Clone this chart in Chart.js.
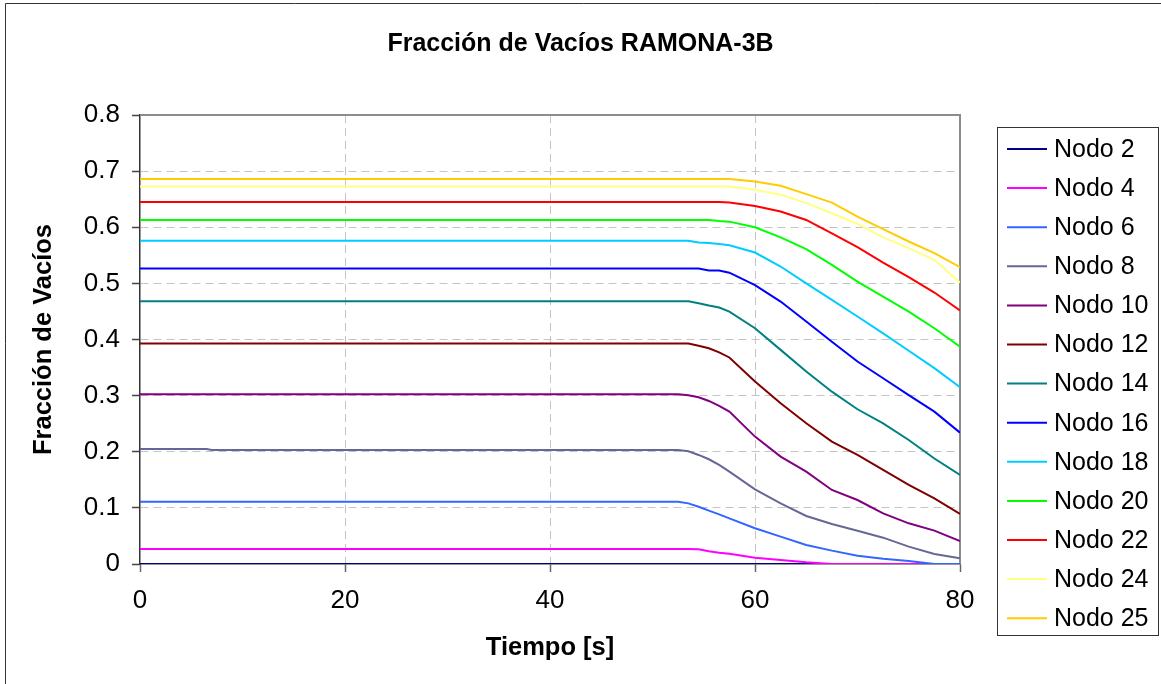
<!DOCTYPE html>
<html>
<head>
<meta charset="utf-8">
<title>Fracción de Vacíos RAMONA-3B</title>
<script src="https://cdn.jsdelivr.net/npm/chart.js@4/dist/chart.umd.min.js"></script>
<style>
    html, body { margin: 0; padding: 0; background: #fff; }
    canvas { display: block; }
</style>
</head>
<body>
<canvas id="grafico" width="1161" height="684"></canvas>
<script>
// --- Datos ---
const tiempo = [0, 6.5, 7, 52.5, 53.5, 54.5, 55.5, 56.5, 57.5, 60, 62.5, 65, 67.5, 70, 72.5, 75, 77.5, 80];

const nodo2  = [0, 0, 0, 0, 0, 0, 0, 0, 0, 0, 0, 0, 0, 0, 0, 0, 0, 0];
const nodo4  = [0.0267, 0.0267, 0.0267, 0.0267, 0.0267, 0.0261, 0.0226, 0.0202, 0.0184, 0.0113, 0.0071, 0.003, 0, 0, 0, 0, 0, 0];
const nodo6  = [0.111, 0.111, 0.111, 0.111, 0.108, 0.102, 0.095, 0.0885, 0.0814, 0.0636, 0.0487, 0.0339, 0.0238, 0.0149, 0.0095, 0.0053, 0, 0];
const nodo8  = [0.205, 0.205, 0.203, 0.203, 0.2008, 0.1943, 0.1866, 0.1765, 0.1646, 0.133, 0.108, 0.0856, 0.0713, 0.0594, 0.0469, 0.0309, 0.0178, 0.0101];
const nodo10 = [0.3025, 0.3025, 0.3025, 0.3025, 0.3007, 0.297, 0.2905, 0.2816, 0.2715, 0.227, 0.1913, 0.1646, 0.1319, 0.114, 0.0903, 0.0725, 0.0594, 0.041];
const nodo12 = [0.393, 0.393, 0.393, 0.393, 0.393, 0.389, 0.3844, 0.377, 0.368, 0.325, 0.2864, 0.2507, 0.218, 0.1943, 0.1676, 0.1408, 0.117, 0.0891];
const nodo14 = [0.468, 0.468, 0.468, 0.468, 0.468, 0.4647, 0.4605, 0.457, 0.4498, 0.42, 0.3815, 0.343, 0.307, 0.2757, 0.2507, 0.221, 0.188, 0.1586];
const nodo16 = [0.5264, 0.5264, 0.5264, 0.5264, 0.5264, 0.5264, 0.523, 0.523, 0.519, 0.497, 0.4676, 0.432, 0.396, 0.3607, 0.331, 0.301, 0.2715, 0.234];
const nodo18 = [0.576, 0.576, 0.576, 0.576, 0.576, 0.573, 0.572, 0.570, 0.568, 0.555, 0.530, 0.500, 0.4706, 0.441, 0.411, 0.380, 0.349, 0.315];
const nodo20 = [0.613, 0.613, 0.613, 0.613, 0.613, 0.613, 0.613, 0.611, 0.610, 0.600, 0.582, 0.561, 0.533, 0.503, 0.4765, 0.4498, 0.420, 0.387];
const nodo22 = [0.645, 0.645, 0.645, 0.645, 0.645, 0.645, 0.645, 0.645, 0.644, 0.638, 0.628, 0.613, 0.589, 0.5645, 0.537, 0.511, 0.4837, 0.4516];
const nodo24 = [0.6726, 0.6726, 0.6726, 0.6726, 0.6726, 0.6726, 0.6726, 0.6726, 0.6726, 0.6667, 0.6578, 0.643, 0.625, 0.606, 0.582, 0.5627, 0.542, 0.5015];
const nodo25 = [0.686, 0.686, 0.686, 0.686, 0.686, 0.686, 0.686, 0.686, 0.686, 0.6815, 0.674, 0.659, 0.644, 0.619, 0.5966, 0.5746, 0.554, 0.529];

const nombres = ['Nodo 2', 'Nodo 4', 'Nodo 6', 'Nodo 8', 'Nodo 10', 'Nodo 12', 'Nodo 14',
                 'Nodo 16', 'Nodo 18', 'Nodo 20', 'Nodo 22', 'Nodo 24', 'Nodo 25'];
const series = [nodo2, nodo4, nodo6, nodo8, nodo10, nodo12, nodo14, nodo16, nodo18, nodo20, nodo22, nodo24, nodo25];

const valoresX = [0, 20, 40, 60, 80];
const etiquetasX = ['0', '20', '40', '60', '80'];
const valoresY = [0, 0.1, 0.2, 0.3, 0.4, 0.5, 0.6, 0.7, 0.8];
const etiquetasY = ['0', '0.1', '0.2', '0.3', '0.4', '0.5', '0.6', '0.7', '0.8'];

// --- Estilo ---
const colores = ['#000080', '#FF00FF', '#3366FF', '#666699', '#800080', '#800000', '#008080',
                 '#0000FF', '#00CCFF', '#00FF00', '#FF0000', '#FFFF80', '#FFCC00'];
const FUENTE = '"Liberation Sans", Arial, sans-serif';

// Fondo blanco y marco exterior (solo se ven el borde izquierdo y el superior)
const fondo = {
    id: 'fondo',
    beforeDraw(chart) {
        const c = chart.ctx;
        c.save();
        c.fillStyle = '#fff';
        c.fillRect(0, 0, chart.width, chart.height);
        c.strokeStyle = '#333';
        c.lineWidth = 1;
        c.beginPath();
        c.moveTo(5.5, chart.height);
        c.lineTo(5.5, 3.5);
        c.lineTo(chart.width, 3.5);
        c.stroke();
        c.restore();
    }
};

// Borde superior y derecho del área de trazado
const bordeArea = {
    id: 'bordeArea',
    beforeDatasetsDraw(chart) {
        const {left, top, right, bottom} = chart.chartArea;
        const c = chart.ctx;
        c.save();
        c.strokeStyle = '#8c8c8c';
        c.lineWidth = 2;
        c.beginPath();
        c.moveTo(left, top);
        c.lineTo(right, top);
        c.lineTo(right, bottom);
        c.stroke();
        c.restore();
    }
};

// Leyenda en caja a la derecha, como en la hoja de cálculo
const leyendaCaja = {
    id: 'leyendaCaja',
    afterDraw(chart) {
        const c = chart.ctx;
        const x0 = 997, y0 = 127, ancho = 161, alto = 508;
        const paso = 39.1;
        c.save();
        c.strokeStyle = '#333';
        c.lineWidth = 1;
        c.strokeRect(x0 + 0.5, y0 + 0.5, ancho, alto);
        c.font = '25px ' + FUENTE;
        c.textBaseline = 'middle';
        c.fillStyle = '#000';
        chart.data.datasets.forEach((ds, i) => {
            const y = y0 + 22 + i * paso;
            c.strokeStyle = ds.borderColor;
            c.lineWidth = 2;
            c.beginPath();
            c.moveTo(x0 + 10, y);
            c.lineTo(x0 + 50, y);
            c.stroke();
            c.fillText(ds.label, x0 + 57, y + 1);
        });
        c.restore();
    }
};

const datasets = series.map((valores, i) => ({
    label: nombres[i],
    data: tiempo.map((t, k) => ({ x: t, y: valores[k] })),
    borderColor: colores[i],
    backgroundColor: colores[i],
    borderWidth: 2,
    pointRadius: 0,
    tension: 0,
    fill: false,
    order: series.length - i
}));

new Chart(document.getElementById('grafico'), {
    type: 'line',
    data: { datasets },
    options: {
        responsive: false,
        animation: false,
        devicePixelRatio: 1,
        layout: { padding: 0 },
        plugins: {
            legend: { display: false },
            tooltip: { enabled: false },
            title: {
                display: true,
                text: 'Fracción de Vacíos RAMONA-3B',
                color: '#000',
                font: { family: FUENTE, size: 25, weight: 'bold', lineHeight: 1.2 },
                padding: { top: 29, bottom: 56 }
            }
        },
        scales: {
            x: {
                type: 'linear',
                min: 0, max: 80,
                afterBuildTicks: s => { s.ticks = valoresX.map(v => ({ value: v })); },
                afterFit: s => { s.height = 120; },
                ticks: {
                    callback: (v, i) => etiquetasX[i],
                    color: '#000',
                    font: { family: FUENTE, size: 26 },
                    padding: 13,
                    maxRotation: 0
                },
                grid: {
                    color: c => (c.tick && (c.tick.value === 0 || c.tick.value === 80)) ? 'rgba(0,0,0,0)' : '#c4c4c4',
                    lineWidth: 1,
                    tickColor: '#666',
                    tickLength: 8,
                    tickWidth: 1.5,
                    tickBorderDash: []
                },
                border: { display: true, color: '#333', width: 1.5, dash: [8, 5] },
                title: {
                    display: true,
                    text: 'Tiempo [s]',
                    color: '#000',
                    font: { family: FUENTE, size: 25.5, weight: 'bold', lineHeight: 1.2 },
                    padding: { top: 0, bottom: 21 }
                }
            },
            y: {
                type: 'linear',
                min: 0, max: 0.8,
                afterBuildTicks: s => { s.ticks = valoresY.map(v => ({ value: v })); },
                afterFit: s => { s.width = 140; },
                ticks: {
                    callback: (v, i) => etiquetasY[i],
                    color: '#000',
                    font: { family: FUENTE, size: 26 },
                    padding: 12
                },
                grid: {
                    color: c => (c.tick && (c.tick.value === 0 || c.tick.value === 0.8)) ? 'rgba(0,0,0,0)' : '#c4c4c4',
                    lineWidth: 1,
                    tickColor: '#444',
                    tickLength: 8,
                    tickWidth: 1.5,
                    tickBorderDash: []
                },
                border: { display: true, color: '#333', width: 1.5, dash: [8, 5] },
                title: {
                    display: true,
                    text: 'Fracción de Vacíos',
                    color: '#000',
                    font: { family: FUENTE, size: 25.5, weight: 'bold', lineHeight: 1.2 },
                    padding: { top: 29, bottom: 0 }
                }
            },
            // eje invisible a la derecha: reserva el hueco de la leyenda
            hueco: {
                type: 'linear',
                position: 'right',
                display: true,
                afterFit: s => { s.width = 201; },
                ticks: { display: false },
                grid: { display: false, drawOnChartArea: false },
                border: { display: false }
            }
        }
    },
    plugins: [fondo, bordeArea, leyendaCaja]
});
</script>
</body>
</html>
